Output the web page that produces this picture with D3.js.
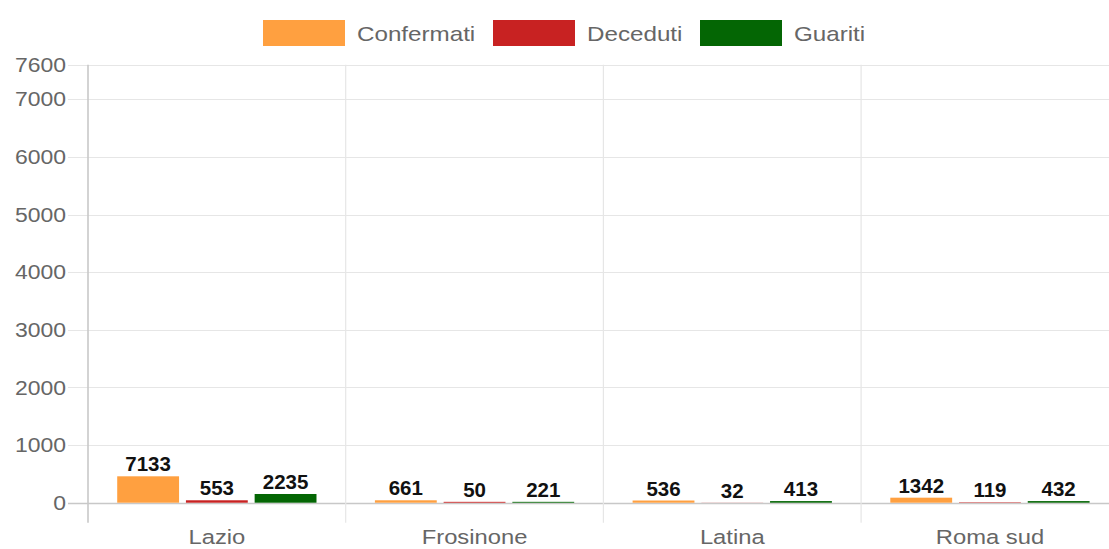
<!DOCTYPE html>
<html>
<head>
<meta charset="utf-8">
<script src="https://cdn.jsdelivr.net/npm/d3@7"></script>
<style>
  body { margin: 0; background: #fff; }
  svg { display: block; font-family: "Liberation Sans", Arial, sans-serif; }
</style>
</head>
<body>
<div id="chart"></div>
<script>
const width = 1109;
const height = 549;

// categories and series
const areas = ["Lazio", "Frosinone", "Latina", "Roma sud"];
const seriesNames = ["Confermati", "Deceduti", "Guariti"];
const seriesColors = ["#ffa040", "#c82222", "#046604"];

// numbers printed over the bars
const confermatiLabels = [7133, 661, 536, 1342];
const decedutiLabels = [553, 50, 32, 119];
const guaritiLabels = [2235, 221, 413, 432];

// bar heights as drawn (they are much shorter than the labels)
const confermatiBars = [458, 42, 38, 87];
const decedutiBars = [42, 15, 2, 8];
const guaritiBars = [151, 15, 28, 28];

const yTicks = [0, 1000, 2000, 3000, 4000, 5000, 6000, 7000, 7600];
const yMax = 7600;

const margin = { top: 64.7, left: 88, bottom: 502.7 };
const catWidth = 257.7;
const bottomEdge = 522.7;

// the grey text in the original is a wider face than Arial
const wide = 1.12;

const svg = d3.select("#chart")
  .append("svg")
  .attr("width", width)
  .attr("height", height)
  .attr("viewBox", `0 0 ${width} ${height}`);

const x = d3.scaleBand()
  .domain(areas)
  .range([margin.left, margin.left + catWidth * areas.length])
  .paddingInner(0)
  .paddingOuter(0);

// chart.js style: 80% of the category, split in 3 slots, bar takes 90% of slot
const x1 = d3.scaleBand()
  .domain(seriesNames)
  .range([0, x.bandwidth() * 0.8]);

const y = d3.scaleLinear()
  .domain([0, yMax])
  .range([margin.bottom, margin.top]);

// horizontal grid
svg.append("g")
  .selectAll("line")
  .data(yTicks)
  .enter()
  .append("line")
  .attr("x1", 68)
  .attr("x2", width)
  .attr("y1", (d) => Math.round(y(d)) + 0.5)
  .attr("y2", (d) => Math.round(y(d)) + 0.5)
  .attr("stroke", (d) => (d === 0 ? "#c8c8c8" : "#e6e6e6"))
  .attr("stroke-width", (d) => (d === 0 ? 1.6 : 1.2));

// vertical grid on category edges
const edges = areas.map((a) => x(a)).concat([x(areas[areas.length - 1]) + x.bandwidth()]);
svg.append("g")
  .selectAll("line")
  .data(edges)
  .enter()
  .append("line")
  .attr("x1", (d) => d)
  .attr("x2", (d) => d)
  .attr("y1", margin.top)
  .attr("y2", bottomEdge)
  .attr("stroke", (d, i) => (i === 0 ? "#c8c8c8" : "#e6e6e6"))
  .attr("stroke-width", (d, i) => (i === 0 ? 1.6 : 1.2));

// y tick labels
svg.append("g")
  .selectAll("text")
  .data(yTicks)
  .enter()
  .append("text")
  .attr("transform", (d) => `translate(66,${y(d)}) scale(${wide},1)`)
  .attr("dy", "0.35em")
  .attr("text-anchor", "end")
  .attr("fill", "#666")
  .attr("font-size", 20.5)
  .text((d) => d);

// x labels
svg.append("g")
  .selectAll("text")
  .data(areas)
  .enter()
  .append("text")
  .attr("transform", (d) => `translate(${x(d) + x.bandwidth() / 2},544) scale(${wide + 0.04},1)`)
  .attr("text-anchor", "middle")
  .attr("fill", "#666")
  .attr("font-size", 20.5)
  .text((d) => d);

// bars
const barSeries = [confermatiBars, decedutiBars, guaritiBars];
const labelSeries = [confermatiLabels, decedutiLabels, guaritiLabels];

const rows = [];
areas.forEach((area, i) => {
  seriesNames.forEach((name, s) => {
    rows.push({ area, name, s, bar: barSeries[s][i], label: labelSeries[s][i] });
  });
});

const slot = x1.bandwidth();
const barW = slot * 0.9;
const barX = (d) => x(d.area) + x.bandwidth() * 0.1 + x1(d.name) + (slot - barW) / 2;

svg.append("g")
  .selectAll("rect")
  .data(rows)
  .enter()
  .append("rect")
  .attr("x", barX)
  .attr("width", barW)
  .attr("y", (d) => y(d.bar))
  .attr("height", (d) => y(0) - y(d.bar))
  .attr("fill", (d) => seriesColors[d.s]);

svg.append("g")
  .selectAll("text")
  .data(rows)
  .enter()
  .append("text")
  .attr("x", (d) => barX(d) + barW / 2)
  .attr("y", (d) => y(d.bar) - 5)
  .attr("text-anchor", "middle")
  .attr("font-weight", "bold")
  .attr("font-size", 20.5)
  .attr("fill", "#111")
  .text((d) => d.label);

// legend
const legendX = [263, 493, 700];
const legend = svg.append("g")
  .selectAll("g")
  .data(seriesNames)
  .enter()
  .append("g")
  .attr("transform", (d, i) => `translate(${legendX[i]},20)`);

legend.append("rect")
  .attr("width", 82)
  .attr("height", 26)
  .attr("fill", (d, i) => seriesColors[i]);

legend.append("text")
  .attr("transform", `translate(94,20.5) scale(${wide + 0.06},1)`)
  .attr("fill", "#666")
  .attr("font-size", 20.5)
  .text((d) => d);
</script>
</body>
</html>
